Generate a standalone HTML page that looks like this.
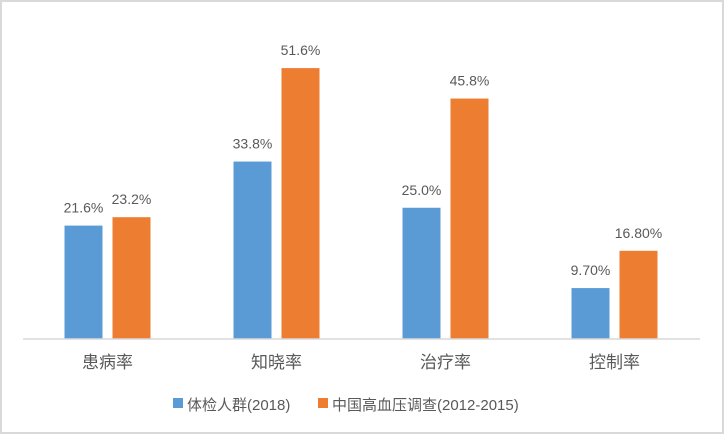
<!DOCTYPE html>
<html><head><meta charset="utf-8"><style>
body{margin:0;background:#fff}
svg{display:block}
text{font-family:"Liberation Sans","Noto Sans CJK SC",sans-serif;fill:#595959}
</style></head><body>
<svg width="724" height="434">
<rect x="1" y="1" width="722" height="432" fill="#fff" stroke="#d9d9d9" stroke-width="2"/>
<g id="plot"></g>
<line x1="23" y1="339" x2="700" y2="339" stroke="#d9d9d9" stroke-width="1.5"/>
<g>
<rect x="173" y="398" width="10" height="10" fill="#5b9bd5"/>
<text x="187" y="410" font-size="15">体检人群(2018)</text>
<rect x="318" y="398" width="10" height="10" fill="#ed7d31"/>
<text x="332" y="410" font-size="15">中国高血压调查(2012-2015)</text>
</g>
</svg>
<script>
const categories=["患病率","知晓率","治疗率","控制率"];
const series1=[21.6,33.8,25.0,9.70];
const series2=[23.2,51.6,45.8,16.80];
const labels1=["21.6%","33.8%","25.0%","9.70%"];
const labels2=["23.2%","51.6%","45.8%","16.80%"];
const ns="http://www.w3.org/2000/svg";
const g=document.getElementById("plot");
const baseY=339, pxPer=5.25, x0=23, bandW=169, barW=38, gap=10;
function y(v){return baseY-v*pxPer;}
function cx(i){return x0+bandW*(i+0.5);}
function mk(tag,attrs){const e=document.createElementNS(ns,tag);for(const k in attrs)e.setAttribute(k,attrs[k]);g.appendChild(e);return e;}
categories.forEach((c,i)=>{
  const c0=cx(i);
  const b1=mk("rect",{x:c0-gap/2-barW,y:y(series1[i]),width:barW,height:series1[i]*pxPer,fill:"#5b9bd5"});
  
  
  const b2=mk("rect",{x:c0+gap/2,y:y(series2[i]),width:barW,height:series2[i]*pxPer,fill:"#ed7d31"});
  
  
  const t1=mk("text",{x:c0-gap/2-barW/2,y:y(series1[i])-13,"font-size":"14","text-anchor":"middle"});
  t1.textContent=labels1[i];
  
  
  const t2=mk("text",{x:c0+gap/2+barW/2,y:y(series2[i])-13,"font-size":"14","text-anchor":"middle"});
  t2.textContent=labels2[i];
  
  
  const ct=mk("text",{x:c0,y:368,"font-size":"17","text-anchor":"middle"});
  ct.textContent=c;
  
  
});
</script>
</body></html>
